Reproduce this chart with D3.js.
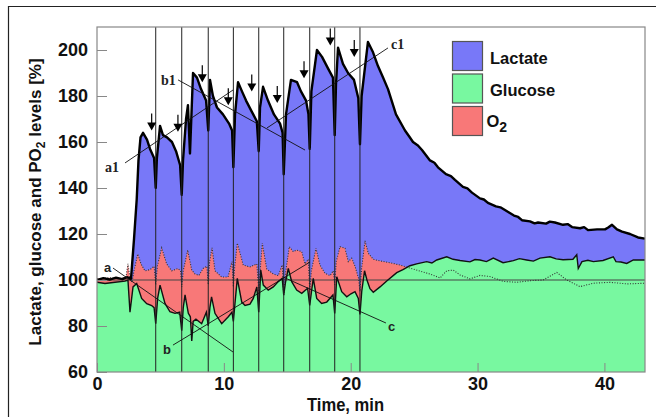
<!DOCTYPE html>
<html>
<head>
<meta charset="utf-8">
<script src="https://d3js.org/d3.v7.min.js"></script>
<style>
    body {
        margin: 0;
        background-color: #ffffff;
    }

    .axis path {
        display: none;
    }

    .axis line {
        stroke: #888;
    }

    .axis text {
        font-family: "Liberation Sans", Arial, sans-serif;
        font-weight: bold;
        font-size: 18px;
        fill: #111;
    }
</style>
</head>
<body>
<svg width="656" height="417"></svg>
<script>
    // values: [time in min, level in %]
    var lactate = [[0, 100], [0.5, 100.8], [1.0, 100.2], [1.5, 101], [2.0, 100.4], [2.4, 101.2], [2.68, 100.5],
        [2.92, 118], [3.13, 135], [3.27, 152], [3.43, 162], [3.63, 164], [3.94, 161], [4.18, 157], [4.5, 153],
        [4.63, 140], [4.72, 153], [4.97, 167], [5.2, 163], [5.52, 162], [5.91, 160], [6.23, 156], [6.55, 150],
        [6.68, 137], [6.78, 152], [7.02, 170], [7.17, 176], [7.33, 155], [7.57, 190], [7.88, 188], [8.2, 183],
        [8.6, 178], [8.77, 165], [8.91, 187], [9.14, 180], [9.46, 175], [9.93, 172], [10.41, 168], [10.65, 165],
        [10.75, 149], [10.88, 172], [11.12, 186], [11.43, 182], [11.75, 178], [12.22, 173], [12.6, 169],
        [12.75, 156], [12.85, 175], [13.09, 184], [13.48, 178], [13.95, 172], [14.43, 168], [14.63, 164],
        [14.72, 146], [14.9, 172], [15.29, 187], [15.77, 186], [16.08, 182], [16.48, 178], [16.67, 172],
        [16.77, 157], [16.9, 182], [17.34, 200], [17.74, 197], [18.21, 192], [18.6, 188], [18.74, 163],
        [18.84, 185], [19.0, 201], [19.39, 194], [19.79, 190], [20.26, 187], [20.6, 179], [20.73, 159],
        [20.86, 180], [21.36, 203.5], [21.76, 199], [22.15, 193], [22.55, 188], [22.94, 183], [23.57, 172],
        [24.28, 165], [24.6, 162.5], [24.91, 160], [25.3, 158.5], [25.62, 156.5], [26.25, 152], [26.6, 151],
        [26.88, 149], [27.51, 146], [27.9, 145.2], [28.22, 143.5], [28.85, 140.5], [29.2, 139.8], [29.56, 138],
        [30.19, 135.5], [30.5, 135], [30.82, 133.5], [31.45, 132], [31.8, 131.6], [32.16, 130.4], [32.87, 128],
        [33.2, 127.4], [33.5, 126], [34.13, 125.5], [34.5, 124.6], [34.77, 125], [35.4, 124.5], [35.7, 125.4],
        [36.1, 125], [36.74, 124], [37.1, 124.3], [37.45, 123], [38.08, 122.5], [38.4, 123], [38.71, 121.7],
        [39.42, 122], [40.05, 122], [40.3, 122.8], [40.6, 124], [40.99, 122], [41.39, 121], [42.02, 120],
        [42.65, 118.5], [43.2, 118]];

    var glucose = [[0, 99], [0.63, 98.5], [1.42, 99], [2.21, 99.5], [2.44, 100], [2.6, 86], [2.84, 97],
        [3.13, 98.5], [3.52, 92], [3.92, 89.7], [4.31, 88.9], [4.5, 88], [4.63, 81], [4.78, 92], [4.97, 97.8],
        [5.36, 89.8], [5.75, 86.2], [6.15, 85.5], [6.52, 86], [6.68, 78], [6.8, 88], [6.94, 93.5], [7.2, 85.5],
        [7.36, 84], [7.47, 73.5], [7.58, 82], [7.8, 83], [8.25, 81], [8.62, 86], [8.77, 80], [8.9, 88],
        [9.03, 92.7], [9.3, 85.5], [9.83, 81], [10.35, 84], [10.64, 86], [10.75, 82], [10.88, 90], [11.06, 100.7],
        [11.41, 90.4], [11.67, 88.9], [12.06, 89.5], [12.32, 92], [12.6, 97], [12.75, 86], [12.91, 104.3],
        [13.11, 97.8], [13.5, 95.6], [13.9, 97], [14.29, 99.3], [14.6, 100.7], [14.72, 93.5], [14.86, 99],
        [15.08, 105], [15.35, 99.3], [15.74, 95.6], [16.14, 94.2], [16.6, 96.4], [16.77, 89], [16.91, 95],
        [17.05, 100.7], [17.32, 92], [17.71, 89.8], [18.11, 90.4], [18.6, 93.5], [18.74, 85.5], [18.9, 101.4],
        [19.29, 94.9], [19.69, 92.7], [20.02, 94], [20.34, 94.9], [20.6, 92], [20.73, 85], [20.87, 95],
        [21.09, 104], [21.28, 100], [21.52, 96.2], [21.78, 94.7], [22.31, 97], [22.84, 99.6], [23.63, 103.2],
        [24.12, 104.5], [24.67, 106.2], [25.2, 107], [25.99, 108], [26.4, 107.4], [26.78, 108.7], [27.57, 110.1],
        [28.07, 109], [28.62, 108.5], [29.4, 107.9], [29.8, 108.9], [30.19, 108.7], [30.7, 108], [31.24, 109.5],
        [32.01, 107.5], [32.82, 108.4], [33.3, 109.3], [33.87, 108.7], [34.4, 108.2], [34.92, 109.5],
        [35.71, 110.1], [36.2, 109.2], [36.74, 108.8], [37.52, 109], [37.82, 111], [37.94, 105], [38.23, 108],
        [38.7, 108.6], [39.13, 108], [39.89, 108.5], [40.7, 110.1], [40.91, 108], [41.3, 107.8], [41.76, 107.2],
        [42.28, 108.7], [43.2, 108.7]];

    var oxygen = [[0, 100.5], [1.02, 101], [1.81, 100.5], [2.29, 101.5], [2.44, 107], [2.6, 101], [2.76, 99],
        [2.92, 104], [3.21, 111.3], [3.47, 107], [3.78, 104], [4.18, 104.5], [4.5, 106], [4.63, 98], [4.76, 106],
        [5.1, 114], [5.49, 107], [5.89, 104], [6.39, 105], [6.58, 104], [6.68, 97], [6.8, 104], [7.15, 113],
        [7.47, 104.3], [7.73, 102.6], [8.04, 102], [8.36, 105], [8.66, 106], [8.77, 98], [8.88, 108], [9.07, 114],
        [9.3, 104], [9.83, 101.3], [10.33, 101.3], [10.64, 108], [10.75, 97], [10.86, 106], [11.06, 116],
        [11.53, 106.5], [12.06, 105.7], [12.6, 107], [12.75, 95], [12.85, 103], [13.03, 116], [13.38, 104.8],
        [13.9, 102.6], [14.29, 101.9], [14.6, 106.5], [14.72, 93], [14.86, 103], [15.16, 114.5], [15.48, 112.3],
        [15.74, 113], [16.14, 112.3], [16.4, 107], [16.66, 109], [16.77, 95], [16.9, 104], [17.26, 113.8],
        [17.58, 106.5], [17.97, 102.9], [18.37, 101.9], [18.62, 104], [18.74, 98], [18.86, 108], [19.16, 114.5],
        [19.55, 113.8], [19.81, 108], [20.08, 109.5], [20.34, 106], [20.62, 100.7], [20.73, 95], [20.86, 105],
        [21.13, 117], [21.39, 111.6], [21.78, 109], [22.31, 108.3], [23.1, 107.5], [23.89, 106.5], [24.91, 104.8],
        [25.46, 103.9], [26.25, 102.6], [27.04, 100.9], [27.57, 104], [28.09, 104.3], [28.62, 102.2],
        [29.4, 100.5], [30.19, 102], [30.98, 101.5], [32.03, 99.4], [33.09, 99], [34.13, 99.7], [35.18, 100],
        [36.24, 103.3], [37.03, 100], [38.08, 97.1], [39.13, 98.6], [40.44, 99], [41.76, 98.3], [43.2, 98.6]];

    var stimuli = [4.63, 6.68, 8.77, 10.75, 12.75, 14.72, 16.77, 18.74, 20.73];
    var arrowTimes = [4.31, 6.38, 8.3, 10.35, 12.2, 14.21, 16.32, 18.39, 20.28];
    var arrowLevels = [165, 164.5, 186, 176, 182, 177, 187.7, 202, 197];

    // trend lines [t0, v0, t1, v1] and their labels [text, t, v]
    var trendLines = [[1.26, 105.2, 10.72, 68.7], [5.99, 71.7, 16.79, 107.8], [14.66, 101.3, 22.78, 81.3],
        [2.21, 150.9, 10.72, 182.6], [6.39, 187, 16.4, 156.5], [13.4, 166.1, 22.94, 200.9]];
    var trendLabels = [["a", 0.55, 103.5], ["b", 5.2, 67.8], ["c", 22.94, 77.8],
        ["a1", 0.63, 147], ["b1", 5.05, 184.8], ["c1", 23.18, 200.4]];

    var yTicks = [60, 80, 100, 120, 140, 160, 180, 200];
    var xTicks = [0, 10, 20, 30, 40];
    var legendNames = ["Lactate", "Glucose", "O"];
    var colors = {lactate: "#7878f8", glucose: "#78f8a0", oxygen: "#f87878"};

    var svg = d3.select("svg");

    var x = d3.scaleLinear().domain([0, 43.2]).range([97, 645]);
    var y = d3.scaleLinear().domain([60, 210]).range([372, 27]);

    // outer frame
    svg.append("path")
        .attr("d", "M8.5,417V6.5H656")
        .attr("fill", "none")
        .attr("stroke", "#222")
        .attr("stroke-width", 1.2);

    svg.append("clipPath").attr("id", "plotclip")
        .append("rect")
        .attr("x", x(0)).attr("y", y(210))
        .attr("width", x(43.2) - x(0)).attr("height", y(60) - y(210));

    var g = svg.append("g").attr("clip-path", "url(#plotclip)");

    function areaOf() {
        return d3.area()
            .x(function (d) { return x(d[0]); })
            .y0(y(60))
            .y1(function (d) { return y(d[1]); });
    }

    var line = d3.line()
        .x(function (d) { return x(d[0]); })
        .y(function (d) { return y(d[1]); });

    g.append("path").datum(lactate).attr("d", areaOf()).attr("fill", colors.lactate);
    g.append("path").datum(oxygen).attr("d", areaOf()).attr("fill", colors.oxygen);
    g.append("path").datum(glucose).attr("d", areaOf()).attr("fill", colors.glucose);

    // 100 % reference
    g.append("line")
        .attr("x1", x(0)).attr("x2", x(43.2))
        .attr("y1", y(100)).attr("y2", y(100))
        .attr("stroke", "#444").attr("stroke-width", 1);

    g.append("path").datum(oxygen).attr("d", line)
        .attr("fill", "none").attr("stroke", "#333")
        .attr("stroke-width", 1.1).attr("stroke-dasharray", "1,1.6");

    g.append("path").datum(glucose).attr("d", line)
        .attr("fill", "none").attr("stroke", "#111").attr("stroke-width", 1.4);

    g.append("path").datum(lactate).attr("d", line)
        .attr("fill", "none").attr("stroke", "#000").attr("stroke-width", 2.4)
        .attr("stroke-linejoin", "round");

    g.selectAll(".stim")
        .data(stimuli)
        .enter().append("line")
        .attr("class", "stim")
        .attr("x1", function (d) { return x(d); })
        .attr("x2", function (d) { return x(d); })
        .attr("y1", y(210)).attr("y2", y(60))
        .attr("stroke", "#222").attr("stroke-width", 1);

    // trend lines
    svg.selectAll(".trend")
        .data(trendLines)
        .enter().append("line")
        .attr("class", "trend")
        .attr("x1", function (d) { return x(d[0]); })
        .attr("y1", function (d) { return y(d[1]); })
        .attr("x2", function (d) { return x(d[2]); })
        .attr("y2", function (d) { return y(d[3]); })
        .attr("stroke", "#111").attr("stroke-width", 0.9);

    svg.selectAll(".tlabel")
        .data(trendLabels)
        .enter().append("text")
        .attr("class", "tlabel")
        .attr("x", function (d) { return x(d[1]); })
        .attr("y", function (d) { return y(d[2]); })
        .attr("font-family", function (d) {
            return d[0].length > 1 ? "'Liberation Serif', 'Times New Roman', serif" : "'Liberation Sans', Arial, sans-serif";
        })
        .attr("font-weight", "bold")
        .attr("font-size", function (d) { return d[0].length > 1 ? "14px" : "13px"; })
        .attr("fill", "#222")
        .text(function (d) { return d[0]; });

    // stimulus arrows
    var arrows = svg.selectAll(".arrow")
        .data(arrowTimes)
        .enter().append("g")
        .attr("class", "arrow")
        .attr("transform", function (d, i) {
            return "translate(" + x(d) + "," + y(arrowLevels[i]) + ")";
        });
    arrows.append("line")
        .attr("x1", 0).attr("x2", 0).attr("y1", -17).attr("y2", -7)
        .attr("stroke", "#000").attr("stroke-width", 1.2);
    arrows.append("path")
        .attr("d", "M0,0L-4.5,-8H4.5Z")
        .attr("fill", "#000");

    // axes
    svg.append("g")
        .attr("class", "y axis")
        .attr("transform", "translate(" + x(0) + ",0)")
        .call(d3.axisLeft(y).tickValues(yTicks).tickSizeInner(-10).tickSizeOuter(0).tickPadding(9));

    svg.append("g")
        .attr("class", "x axis")
        .attr("transform", "translate(0," + y(60) + ")")
        .call(d3.axisBottom(x).tickValues(xTicks).tickSizeInner(-9).tickSizeOuter(0).tickPadding(5));

    svg.append("rect")
        .attr("x", x(0)).attr("y", y(210))
        .attr("width", x(43.2) - x(0)).attr("height", y(60) - y(210))
        .attr("fill", "none").attr("stroke", "#888").attr("stroke-width", 1.2);

    svg.append("text")
        .attr("x", 307).attr("y", 411)
        .attr("textLength", 77)
        .attr("lengthAdjust", "spacingAndGlyphs")
        .attr("font-family", "'Liberation Sans', Arial, sans-serif")
        .attr("font-weight", "bold")
        .attr("font-size", "19px")
        .attr("fill", "#111")
        .text("Time, min");

    var ylab = svg.append("text")
        .attr("transform", "translate(41,202) rotate(-90)")
        .attr("text-anchor", "middle")
        .attr("font-family", "'Liberation Sans', Arial, sans-serif")
        .attr("font-weight", "bold")
        .attr("font-size", "17px")
        .attr("fill", "#111");
    ylab.append("tspan").text("Lactate, glucose and PO");
    ylab.append("tspan").attr("font-size", "12px").attr("dy", 4).text("2");
    ylab.append("tspan").attr("dy", -4).text(" levels [%]");

    // legend
    var legendFill = [colors.lactate, colors.glucose, colors.oxygen];
    var legend = svg.selectAll(".legend")
        .data(legendNames)
        .enter().append("g")
        .attr("class", "legend")
        .attr("transform", function (d, i) { return "translate(452.5," + (41.5 + i * 32.5) + ")"; });
    legend.append("rect")
        .attr("width", 30).attr("height", 29)
        .attr("fill", function (d, i) { return legendFill[i]; })
        .attr("stroke", "#555").attr("stroke-width", 1.2);
    var ltext = legend.append("text")
        .attr("x", function (d, i) { return i == 2 ? 34 : 37.5; })
        .attr("y", function (d, i) { return i == 2 ? 20.5 : 22; })
        .attr("font-family", "'Liberation Sans', Arial, sans-serif")
        .attr("font-weight", "bold")
        .attr("font-size", "16.5px")
        .attr("fill", "#111")
        .text(function (d) { return d; });
    ltext.filter(function (d, i) { return i == 2; })
        .append("tspan").attr("dy", 5).attr("font-size", "14px").text("2");
</script>
</body>
</html>
